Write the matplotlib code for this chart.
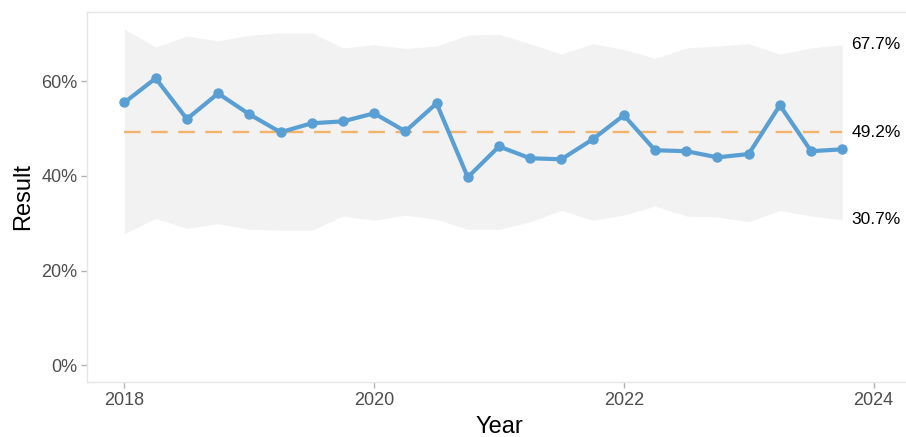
import matplotlib
matplotlib.use("Agg")
import matplotlib.pyplot as plt
from matplotlib.ticker import FuncFormatter
import numpy as np

# ---- data ----
quarters = [2018 + 0.25 * i for i in range(24)]
result = [55.5, 60.6, 52.0, 57.4, 53.0, 49.2, 51.1, 51.5, 53.2, 49.4, 55.3, 39.7,
          46.2, 43.7, 43.5, 47.7, 52.8, 45.4, 45.2, 43.9, 44.6, 54.9, 45.2, 45.6]
upper = [71.0, 67.2, 69.5, 68.5, 69.7, 70.2, 70.2, 67.0, 67.7, 66.9, 67.4, 69.7,
         69.9, 67.9, 65.7, 67.9, 66.7, 64.8, 67.0, 67.4, 67.9, 65.7, 67.0, 67.7]
lower = [27.8, 31.0, 28.9, 29.9, 28.7, 28.5, 28.5, 31.5, 30.6, 31.7, 30.8, 28.7,
         28.7, 30.3, 32.7, 30.6, 31.7, 33.6, 31.5, 31.3, 30.3, 32.7, 31.5, 30.7]
mean_value = 49.2
label_x = 2024.02
y_ticks = [0, 20, 40, 60]
x_ticks = [2018, 2020, 2022, 2024]

plt.rcParams['font.family'] = ['Liberation Sans', 'DejaVu Sans']

fig = plt.figure(figsize=(9.06, 4.37), dpi=100)
ax = fig.add_axes([87 / 906, 55 / 437, 824 / 906, 370 / 437])

ax.fill_between(quarters, lower, upper, color='#F2F2F2', linewidth=0, zorder=1)
ax.plot([quarters[0], quarters[-1]], [mean_value, mean_value], color='#F2B46A',
        linewidth=1.7, dashes=(7, 4.5), zorder=2)
ax.plot(quarters, result, color='#5A9FD4', linewidth=3.0, marker='o',
        markersize=6.5, zorder=3, solid_joinstyle='round', solid_capstyle='round')

for v in [upper[-1], mean_value, lower[-1]]:
    ax.text(label_x, v, f"{v:.1f}%", ha='center', va='center', fontsize=12.5, color='black')

ax.set_xlim(2017.7, 2024.3)
ax.set_ylim(-3.55, 74.6)
ax.set_xticks(x_ticks)
ax.set_yticks(y_ticks)
ax.yaxis.set_major_formatter(FuncFormatter(lambda v, p: f"{v:.0f}%"))

for s in ax.spines.values():
    s.set_color('#E6E6E6')
    s.set_linewidth(1.0)
ax.tick_params(axis='both', colors='#B3B3B3', length=4, width=1, labelsize=13, labelcolor='#4D4D4D', pad=3)

ax.set_xlabel('Year', fontsize=17, color='black', labelpad=5)
ax.set_ylabel('Result', fontsize=17, color='black', labelpad=5)

fig.savefig('out.png', dpi=100)
